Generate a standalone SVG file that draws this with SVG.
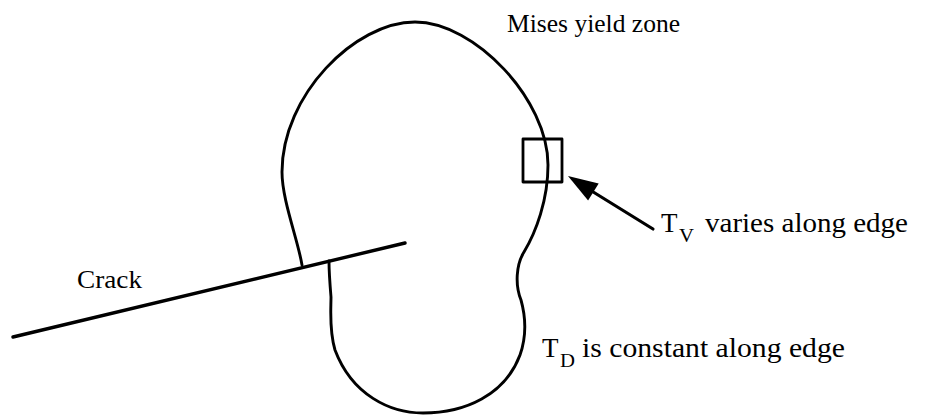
<svg xmlns="http://www.w3.org/2000/svg" width="927" height="419" viewBox="0 0 927 419">
<style>
.ln{fill:none;stroke:#000;stroke-linecap:round;stroke-linejoin:round}
.t{font-family:"Liberation Serif","Times New Roman",serif;font-size:26px;fill:#000}
.b{font-size:27px}
.s{font-family:"Liberation Serif","Times New Roman",serif;font-size:19px;fill:#000}
</style>
<rect width="927" height="419" fill="#fff"/>
<g id="yield-zone">
<path class="ln" stroke-width="2.9" d="M 302,265 C 298,240 282,200 282,172 C 282,95 355,22 415,22 C 475,22 548,100 548,165 C 548,200 536,232 524,252 C 516,265 515,285 521,300 C 526,318 527,335 520,355 C 505,395 465,413 423,413 C 390,413 352,395 335,350 C 329,330 331,310 331,297 C 330,285 329,272 329,261"/>
<text class="t" x="507" y="31.5" textLength="173" lengthAdjust="spacingAndGlyphs">Mises yield zone</text>
</g>
<g id="crack">
<line class="ln" stroke-width="3.4" x1="13" y1="337" x2="405" y2="243"/>
<text class="t" x="77" y="288" textLength="65" lengthAdjust="spacingAndGlyphs">Crack</text>
</g>
<g id="element-box">
<rect class="ln" stroke-width="2.8" x="523" y="139" width="39" height="43"/>
</g>
<g id="label-tv">
<text class="t b" x="661" y="232">T</text>
<text class="s" x="679" y="242" textLength="15" lengthAdjust="spacingAndGlyphs">V</text>
<text class="t b" x="705" y="232" textLength="203" lengthAdjust="spacingAndGlyphs">varies along edge</text>
</g>
<g id="label-td">
<text class="t b" x="542" y="357">T</text>
<text class="s" x="560" y="367" textLength="15" lengthAdjust="spacingAndGlyphs">D</text>
<text class="t b" x="582" y="357" textLength="263" lengthAdjust="spacingAndGlyphs">is constant along edge</text>
</g>
<g id="connectors">
<line class="ln" stroke-width="3.2" x1="653" y1="229" x2="590" y2="190"/>
<polygon points="568,176 588.1,200.4 598.7,183.4" fill="#000"/>
</g>
</svg>
